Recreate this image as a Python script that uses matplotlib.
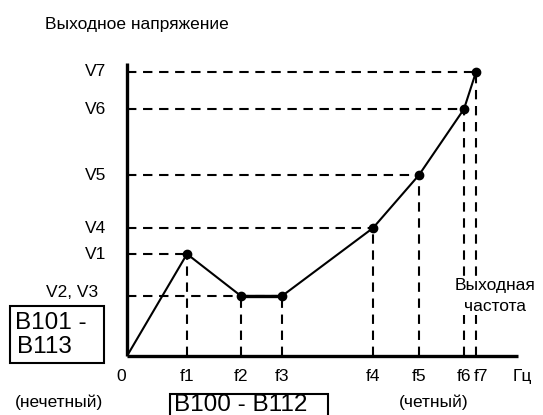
import matplotlib
matplotlib.use("Agg")

import matplotlib.pyplot as plt
from matplotlib.patches import Rectangle

plt.rcParams['font.family'] = ['Liberation Sans', 'DejaVu Sans']

# ================= DATA =================
freq_labels = ["f1", "f2", "f3", "f4", "f5", "f6", "f7"]
freq = [60, 114, 155, 246, 292, 337, 349]
volt_labels = ["V1", "V2, V3", "V2, V3", "V4", "V5", "V6", "V7"]
volt = [102, 60, 60, 128, 181, 247, 284]

W, H = 543, 415
FS = 12.5      # plain labels
FS_BOX = 17.5  # parameter boxes


def fx(px):
    return px / W


def fy(py):
    return 1 - py / H


fig = plt.figure(figsize=(W / 100, H / 100), dpi=100)
# axes: origin at (127, 356) px, x axis to 518, y axis up to 63
ax = fig.add_axes([fx(127), fy(356), (518 - 127) / W, (356 - 63) / H])
ax.set_xlim(0, 391)
ax.set_ylim(0, 293)

for s in ("top", "right"):
    ax.spines[s].set_visible(False)
for s in ("left", "bottom"):
    ax.spines[s].set_linewidth(2.4)
    ax.spines[s].set_capstyle("butt")
ax.set_xticks([])
ax.set_yticks([])

dash = dict(color="black", linewidth=1.5, dashes=(4.5, 3.2))

# guide lines from each point back to the axes
for i, (f, v) in enumerate(zip(freq, volt)):
    if i != 1:
        ax.plot([0, f], [v, v], **dash)
    ax.plot([f, f], [0, v], **dash)

# curve
xs = [0] + freq
ys = [0] + volt
ax.plot(xs, ys, color="black", linewidth=1.5, zorder=3)
ax.plot(freq[1:3], volt[1:3], color="black", linewidth=2.4, zorder=3)
ax.plot(freq, volt, "o", color="black", markersize=6, zorder=4)

# ================= LABELS =================
for lab, f in zip(freq_labels, freq):
    shift = 5 if lab == "f7" else 0   # f6/f7 sit close together
    ax.text(f + shift, -20, lab, ha="center", va="center", fontsize=FS)
ax.text(-6, -20, "0", ha="center", va="center", fontsize=FS)
ax.text(386, -20, "Гц", ha="left", va="center", fontsize=FS)

for lab, v in zip(volt_labels, volt):
    if lab == "V2, V3":
        continue
    ax.text(-21, v, lab, ha="right", va="center", fontsize=FS)
ax.text(-29, volt[1] + 4, "V2, V3", ha="right", va="center", fontsize=FS)

ax.text(368, 60, "Выходная\nчастота", ha="center", va="center", fontsize=FS,
        linespacing=1.45, zorder=5,
        bbox=dict(facecolor="white", edgecolor="none", pad=1))

fig.text(fx(45), fy(24), "Выходное напряжение", ha="left", va="center", fontsize=FS)
fig.text(fx(59), fy(402), "(нечетный)", ha="center", va="center", fontsize=FS)
fig.text(fx(434), fy(402), "(четный)", ha="center", va="center", fontsize=FS)

# parameter boxes
fig.patches.append(Rectangle((fx(10), fy(363)), (104 - 10) / W, (363 - 306) / H,
                             transform=fig.transFigure, fill=False,
                             edgecolor="black", linewidth=1.5))
fig.text(fx(15), fy(323), "B101 -", ha="left", va="center", fontsize=FS_BOX)
fig.text(fx(17), fy(347), "B113", ha="left", va="center", fontsize=FS_BOX)

fig.patches.append(Rectangle((fx(170), fy(425)), (328 - 170) / W, (425 - 394) / H,
                             transform=fig.transFigure, fill=False,
                             edgecolor="black", linewidth=1.5))
fig.text(fx(174), fy(405), "B100 - B112", ha="left", va="center", fontsize=FS_BOX)

fig.savefig("out.png", dpi=100)
